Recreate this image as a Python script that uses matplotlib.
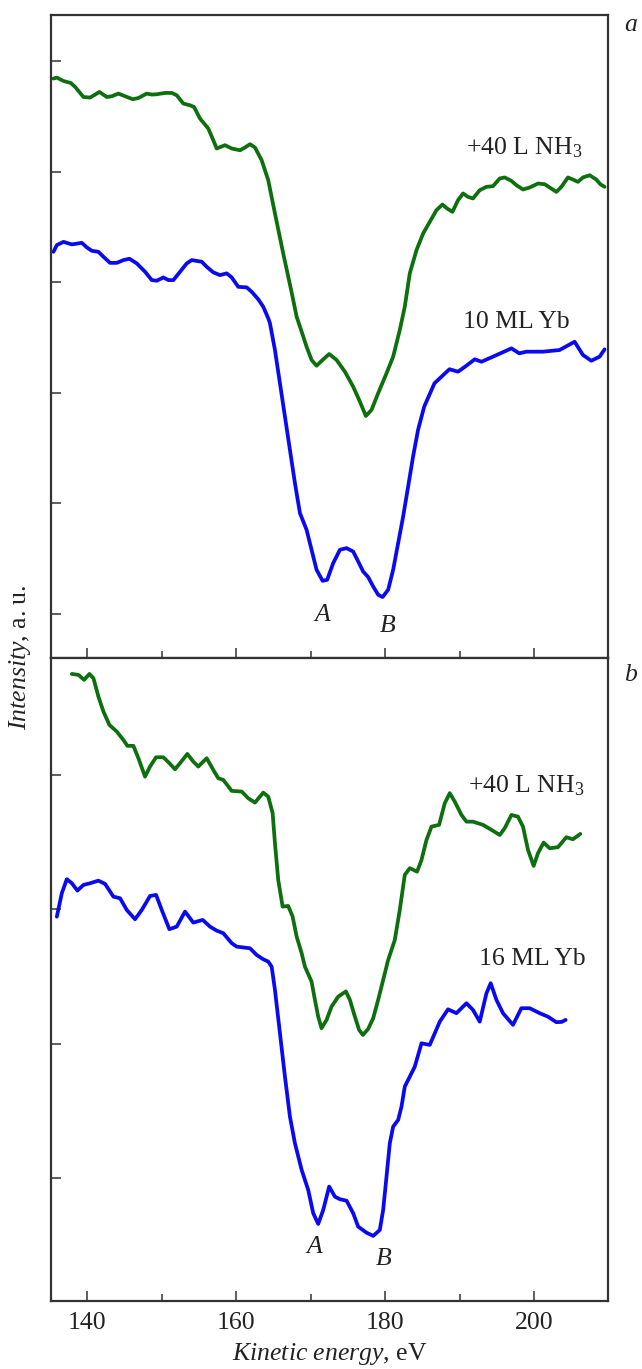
import matplotlib
matplotlib.use("Agg")
import matplotlib.pyplot as plt

plt.rcParams["font.family"] = ["Liberation Serif", "DejaVu Serif"]
plt.rcParams["mathtext.fontset"] = "custom"
plt.rcParams["mathtext.rm"] = "Liberation Serif"
plt.rcParams["mathtext.it"] = "Liberation Serif:italic"

# panel a: 10 ML Yb and after 40 L NH3
ea_nh3 = [135.50, 135.95, 136.84, 137.83, 138.41, 139.52, 140.42, 141.66, 142.65, 143.32,
          144.21, 145.10, 146.14, 146.89, 148.01, 148.68, 149.35, 150.46, 151.36, 152.03,
          152.91, 153.81, 154.35, 155.15, 156.26, 156.93, 157.39, 158.50, 159.40, 160.51,
          161.18, 161.85, 162.52, 163.42, 164.30, 165.20, 166.31, 167.43, 168.11, 168.78,
          169.44, 170.11, 170.78, 171.59, 172.47, 173.46, 174.58, 175.69, 176.59, 177.39,
          178.15, 179.04, 180.16, 181.05, 181.94, 182.61, 183.28, 184.18, 185.07, 185.96,
          186.86, 187.66, 188.28, 189.00, 189.75, 190.42, 191.09, 191.76, 192.66, 193.56,
          194.44, 195.34, 196.01, 196.91, 197.58, 198.46, 199.36, 200.47, 201.37, 202.04,
          202.94, 203.61, 204.49, 205.16, 205.83, 206.50, 207.40, 208.29, 208.83, 209.40]
ia_nh3 = [4.844, 4.853, 4.822, 4.804, 4.768, 4.677, 4.672, 4.723, 4.677, 4.684,
          4.708, 4.684, 4.657, 4.668, 4.708, 4.699, 4.702, 4.714, 4.714, 4.693,
          4.618, 4.602, 4.587, 4.482, 4.392, 4.286, 4.211, 4.241, 4.211, 4.195,
          4.220, 4.250, 4.220, 4.105, 3.924, 3.623, 3.261, 2.911, 2.688, 2.553,
          2.417, 2.297, 2.245, 2.297, 2.351, 2.297, 2.191, 2.055, 1.920, 1.790,
          1.845, 1.996, 2.176, 2.327, 2.568, 2.779, 3.081, 3.291, 3.442, 3.547,
          3.653, 3.704, 3.668, 3.638, 3.743, 3.804, 3.773, 3.759, 3.834, 3.864,
          3.870, 3.940, 3.949, 3.918, 3.879, 3.840, 3.858, 3.894, 3.888, 3.858,
          3.818, 3.864, 3.949, 3.930, 3.909, 3.949, 3.969, 3.930, 3.888, 3.864]

ea_yb = [135.50, 135.95, 136.84, 137.96, 139.30, 139.97, 140.64, 141.53, 142.20, 143.09,
         143.99, 144.88, 145.68, 146.67, 147.79, 148.68, 149.35, 150.24, 150.91, 151.58,
         152.47, 153.37, 154.04, 155.38, 156.05, 156.93, 157.83, 158.73, 159.40, 160.28,
         161.41, 162.08, 162.96, 163.63, 164.30, 164.53, 165.20, 165.87, 166.54, 167.21,
         167.88, 168.55, 169.44, 170.11, 170.78, 171.59, 172.20, 173.01, 173.91, 174.80,
         175.69, 176.36, 177.03, 177.70, 178.37, 179.04, 179.63, 180.38, 181.05, 181.72,
         182.39, 183.06, 183.72, 184.39, 185.21, 186.59, 187.30, 188.60, 189.75, 190.69,
         191.99, 192.89, 194.44, 196.91, 197.96, 198.91, 201.14, 203.37, 205.38, 206.50,
         207.62, 208.74, 209.40]
ia_yb = [3.276, 3.337, 3.366, 3.343, 3.357, 3.316, 3.285, 3.276, 3.231, 3.176,
         3.176, 3.201, 3.213, 3.171, 3.095, 3.020, 3.014, 3.044, 3.020, 3.020,
         3.095, 3.171, 3.201, 3.186, 3.140, 3.090, 3.065, 3.081, 3.044, 2.959,
         2.954, 2.914, 2.846, 2.779, 2.674, 2.629, 2.387, 2.086, 1.784, 1.483,
         1.182, 0.911, 0.760, 0.579, 0.398, 0.298, 0.307, 0.458, 0.579, 0.594,
         0.563, 0.473, 0.382, 0.332, 0.247, 0.172, 0.151, 0.217, 0.398, 0.639,
         0.880, 1.151, 1.422, 1.664, 1.874, 2.086, 2.131, 2.213, 2.191, 2.236,
         2.303, 2.281, 2.327, 2.402, 2.357, 2.372, 2.372, 2.387, 2.462, 2.342,
         2.290, 2.327, 2.393]

# panel b: 16 ML Yb and after 40 L NH3
eb_nh3 = [137.96, 138.85, 139.61, 140.32, 140.86, 141.53, 142.20, 143.00, 143.99, 144.88,
          145.41, 146.22, 146.89, 147.78, 148.45, 149.26, 150.23, 151.04, 151.80, 152.47,
          153.45, 154.25, 154.92, 156.05, 156.93, 157.60, 158.27, 159.40, 160.74, 161.62,
          162.52, 163.63, 164.30, 164.89, 165.20, 165.64, 166.23, 166.98, 167.57, 168.11,
          168.78, 169.22, 170.11, 170.56, 171.00, 171.45, 172.12, 172.79, 173.68, 174.71,
          175.25, 175.92, 176.49, 176.99, 177.70, 178.37, 179.04, 179.71, 180.38, 181.27,
          181.94, 182.61, 183.28, 184.26, 184.85, 185.52, 186.19, 187.21, 187.97, 188.64,
          189.31, 190.21, 190.88, 191.76, 193.10, 194.23, 195.34, 196.01, 196.91, 197.79,
          198.46, 199.13, 199.89, 200.47, 201.23, 202.04, 203.15, 204.27, 205.16, 206.15]
ib_nh3 = [4.752, 4.745, 4.708, 4.752, 4.720, 4.583, 4.472, 4.373, 4.323, 4.261,
          4.217, 4.217, 4.125, 3.988, 4.063, 4.132, 4.132, 4.088, 4.043, 4.088,
          4.157, 4.100, 4.063, 4.125, 4.038, 3.976, 3.964, 3.882, 3.877, 3.827,
          3.795, 3.869, 3.839, 3.716, 3.493, 3.219, 3.021, 3.026, 2.946, 2.798,
          2.674, 2.574, 2.463, 2.327, 2.202, 2.116, 2.178, 2.277, 2.351, 2.390,
          2.327, 2.202, 2.103, 2.066, 2.111, 2.190, 2.327, 2.475, 2.624, 2.773,
          2.996, 3.257, 3.307, 3.281, 3.368, 3.517, 3.616, 3.629, 3.790, 3.865,
          3.802, 3.703, 3.653, 3.653, 3.629, 3.592, 3.554, 3.604, 3.703, 3.690,
          3.616, 3.443, 3.324, 3.418, 3.497, 3.455, 3.463, 3.537, 3.522, 3.562]

eb_yb = [135.95, 136.62, 137.29, 137.96, 138.71, 139.52, 140.42, 141.53, 142.42, 143.54,
         144.43, 145.33, 146.44, 147.34, 148.45, 149.26, 150.02, 151.04, 152.03, 153.14,
         154.25, 155.51, 156.49, 157.39, 158.27, 159.40, 160.07, 161.85, 162.75, 163.63,
         164.30, 164.76, 165.20, 165.87, 166.54, 167.21, 167.88, 168.78, 169.66, 170.33,
         171.00, 171.67, 172.47, 173.24, 173.91, 174.80, 175.69, 176.36, 177.48, 178.37,
         179.26, 179.71, 180.16, 180.60, 181.05, 181.72, 182.17, 182.61, 183.28, 183.95,
         184.85, 185.96, 187.30, 188.41, 189.53, 190.88, 191.76, 192.66, 193.56, 194.13,
         194.90, 195.78, 197.12, 198.24, 199.36, 200.70, 201.81, 202.93, 203.64, 204.18]
ib_yb = [2.946, 3.121, 3.225, 3.195, 3.140, 3.182, 3.195, 3.214, 3.190, 3.095,
         3.083, 2.996, 2.927, 2.996, 3.100, 3.108, 2.996, 2.853, 2.872, 2.984,
         2.902, 2.922, 2.872, 2.842, 2.823, 2.749, 2.723, 2.711, 2.661, 2.629,
         2.612, 2.574, 2.401, 2.079, 1.756, 1.458, 1.260, 1.062, 0.913, 0.740,
         0.660, 0.764, 0.938, 0.863, 0.844, 0.833, 0.740, 0.640, 0.595, 0.571,
         0.615, 0.764, 1.012, 1.260, 1.384, 1.434, 1.533, 1.682, 1.756, 1.830,
         2.004, 1.992, 2.165, 2.257, 2.228, 2.302, 2.252, 2.165, 2.376, 2.451,
         2.327, 2.228, 2.141, 2.265, 2.265, 2.228, 2.202, 2.161, 2.163, 2.178]

xticks = [140, 160, 180, 200]
GREEN = "#0d6f0d"
BLUE = "#0a0af0"
FRAME = "#333333"
FS = 18.5

fig = plt.figure(figsize=(6.42, 13.69), dpi=100)
ax_a = fig.add_axes([0.0798, 0.5194, 0.8677, 0.4697])
ax_b = fig.add_axes([0.0798, 0.0497, 0.8677, 0.4697])


def style(ax, ylim, yticks):
    ax.set_xlim(135.2, 209.9)
    ax.set_ylim(*ylim)
    ax.set_xticks(xticks)
    ax.set_xticks([150, 170, 190], minor=True)
    ax.set_yticks(yticks)
    ax.set_yticklabels([])
    ax.tick_params(axis="both", which="major", direction="in", length=7, width=1.1,
                   color=FRAME, top=False, right=False, labelsize=FS)
    ax.tick_params(axis="x", which="minor", direction="in", length=5, width=1.1,
                   color=FRAME, top=False)
    ax.tick_params(axis="x", pad=8, labelcolor="#222222")
    for s in ax.spines.values():
        s.set_color(FRAME)
        s.set_linewidth(1.6)


line_kw = dict(lw=2.7, solid_joinstyle="round", solid_capstyle="round")

ax_a.plot(ea_nh3, ia_nh3, color=GREEN, **line_kw)
ax_a.plot(ea_yb, ia_yb, color=BLUE, **line_kw)
style(ax_a, (-0.40, 5.42), [0, 1, 2, 3, 4, 5])
ax_a.set_xticklabels([])

ax_b.plot(eb_nh3, ib_nh3, color=GREEN, **line_kw)
ax_b.plot(eb_yb, ib_yb, color=BLUE, **line_kw)
style(ax_b, (0.087, 4.871), [1, 2, 3, 4])

txt = dict(fontsize=FS, color="#222222")
ax_a.text(206.4, 4.16, r"+40 L NH$_3$", ha="right", va="baseline", **txt)
ax_a.text(204.7, 2.59, "10 ML Yb", ha="right", va="baseline", **txt)
ax_a.text(171.6, -0.01, "A", style="italic", ha="center", va="center", **txt)
ax_a.text(180.3, -0.11, "B", style="italic", ha="center", va="center", **txt)
ax_a.text(1.040, 0.984, "a", style="italic", transform=ax_a.transAxes,
          ha="center", va="center", **txt)

ax_b.text(206.7, 3.87, r"+40 L NH$_3$", ha="right", va="baseline", **txt)
ax_b.text(206.9, 2.59, "16 ML Yb", ha="right", va="baseline", **txt)
ax_b.text(170.5, 0.49, "A", style="italic", ha="center", va="center", **txt)
ax_b.text(179.8, 0.40, "B", style="italic", ha="center", va="center", **txt)
ax_b.text(1.040, 0.974, "b", style="italic", transform=ax_b.transAxes,
          ha="center", va="center", **txt)

ax_b.set_xlabel(r"$\mathit{Kinetic\ energy}$, eV", fontsize=FS, color="#222222", labelpad=5)
fig.text(0.031, 0.52, r"$\mathit{Intensity}$, a. u.", rotation=90, ha="center",
         va="center", fontsize=FS, color="#222222")

fig.savefig("out.png", dpi=100)
